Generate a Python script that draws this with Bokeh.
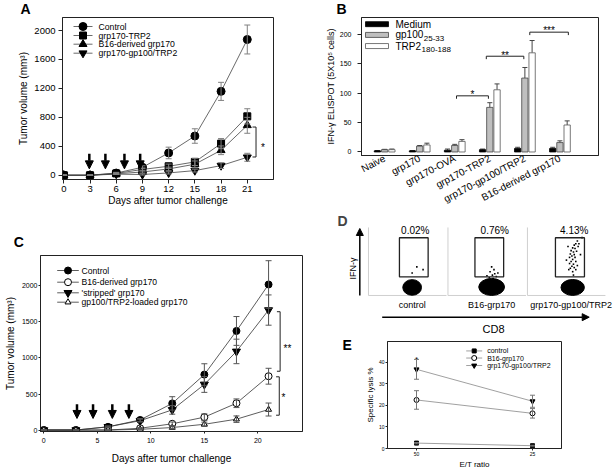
import math
from bokeh.plotting import figure
from bokeh.models import (Range1d, FixedTicker, Whisker, TeeHead, Arrow, NormalHead, Label,
                          ColumnDataSource)
from bokeh.layouts import row, column
from bokeh.embed import file_html
from bokeh.resources import INLINE
from bokeh.core.properties import value

FONT = "Liberation Sans"
INK = "#222222"
GREY = "#808080"

# ---------------- data: panel A ----------------
A_days = [0, 3, 6, 9, 12, 15, 18, 21]
A_control = [0, 0, 30, 110, 308, 542, 1159, 1876]
A_control_err = [0, 0, 10, 20, 80, 100, 125, 200]
A_trp2 = [0, 0, 25, 80, 124, 184, 437, 814]
A_trp2_err = [0, 0, 8, 20, 30, 50, 70, 105]
A_b16 = [0, 0, 20, 45, 87, 152, 345, 690]
A_b16_err = [0, 0, 8, 15, 25, 45, 60, 110]
A_gp = [0, 0, 15, 10, 32, 64, 133, 248]
A_gp_err = [0, 0, 5, 8, 15, 20, 40, 55]
A_injection_days = [2.92, 4.76, 6.94, 8.74]
A_x_ticks = [0, 3, 6, 9, 12, 15, 18, 21]
A_y_ticks = [0, 400, 800, 1200, 1600, 2000]

# ---------------- data: panel B ----------------
B_groups = ["Naive", "grp170", "grp170-OVA", "grp170-TRP2", "grp170-gp100/TRP2", "B16-derived grp170"]
B_medium = [2, 2, 3, 4, 6, 6]
B_medium_err = [0.5, 0.5, 2, 1, 2, 2]
B_gp100 = [4, 10, 11, 76, 126, 16]
B_gp100_err = [0.5, 1, 2, 8, 18, 3]
B_trp2 = [4, 12, 18, 106, 169, 46]
B_trp2_err = [1, 3, 3, 10, 21, 7]
B_y_ticks = [0, 50, 100, 150, 200]

# ---------------- data: panel C ----------------
C_days = [0, 3, 6, 9, 12, 15, 18, 21]
C_control = [0, 0, 45, 140, 370, 770, 1375, 2020]
C_control_err = [0, 0, 10, 20, 93, 150, 200, 330]
C_b16 = [0, 0, 0, 25, 87, 179, 372, 747]
C_b16_err = [0, 0, 0, 8, 25, 45, 60, 110]
C_stripped = [0, 0, 45, 130, 280, 633, 1091, 1665]
C_stripped_err = [0, 0, 10, 20, 60, 110, 170, 210]
C_loaded = [0, 0, 0, 10, 35, 80, 151, 285]
C_loaded_err = [0, 0, 0, 5, 15, 30, 45, 90]
C_injection_days = [3.1, 4.6, 6.4, 7.95]
C_x_ticks = [0, 5, 10, 15, 20]
C_y_ticks = [0, 500, 1000, 1500, 2000]

# ---------------- data: panel D ----------------
D_conditions = ["control", "B16-grp170", "grp170-gp100/TRP2"]
D_percent = ["0.02%", "0.76%", "4.13%"]
D_gate_x0 = [397, 346, 359]
D_gate_x1 = [765, 714, 731]
D_gate_y0 = 275
D_gate_y1 = 849
D_cluster_x = [560, 560, 580]
D_cluster_y = [118, 125, 118]
D_cluster_w = [240, 330, 300]
D_cluster_h = [230, 250, 235]
D_dots_x = [[620, 560, 700],
            [560, 590, 540, 600, 570, 620, 530, 580, 610, 550, 640, 500],
            [640, 620, 600, 650, 580, 610, 560, 590, 630, 550, 600, 570, 540, 610, 580,
             560, 620, 540, 590, 570, 600, 550, 530, 620, 580, 700, 520, 680, 500, 640, 660, 590]]
D_dots_y = [[420, 330, 380],
            [420, 380, 350, 320, 300, 280, 260, 250, 230, 220, 330, 290],
            [800, 760, 740, 720, 700, 690, 660, 640, 650, 610, 600, 580, 560, 560, 530,
             500, 500, 470, 460, 430, 410, 400, 380, 380, 350, 850, 720, 600, 520, 440, 760, 300]]

# ---------------- data: panel E ----------------
E_ratio_labels = ["50", "25"]
E_control = [2.5, 1.3]
E_control_err = [0.3, 0.2]
E_b16 = [22.5, 16.3]
E_b16_err = [4.3, 2.2]
E_gp = [36.7, 21.9]
E_gp_err = [4.6, 2.8]
E_y_ticks = [0, 10, 20, 30, 40]


def base_fig(w, h, xr, yr, mb):
    p = figure(width=w, height=h, x_range=Range1d(*xr), y_range=Range1d(*yr),
               output_backend="svg", toolbar_location=None, min_border_left=mb[0],
               min_border_right=mb[1], min_border_top=mb[2], min_border_bottom=mb[3])
    p.frame_align = False
    p.title.visible = False
    p.xgrid.visible = False
    p.ygrid.visible = False
    p.outline_line_color = INK
    p.outline_line_width = 1
    return p


def mapper(origin, size, mb, xr, yr):
    """page-pixel -> data converters for a figure's frame (used for the legend keys)"""
    fl = origin[0] + mb[0]
    fr = origin[0] + size[0] - mb[1]
    ft = origin[1] + mb[2]
    fb = origin[1] + size[1] - mb[3]
    X = lambda px: xr[0] + (px - fl) / (fr - fl) * (xr[1] - xr[0])
    Y = lambda py: yr[1] - (py - ft) / (fb - ft) * (yr[1] - yr[0])
    return X, Y


def style_axis(ax, tick_px, label_px, tick_out, label_standoff, axis_label_standoff):
    ax.axis_line_color = INK
    ax.major_tick_line_color = INK
    ax.minor_tick_line_color = None
    ax.major_tick_in = 0
    ax.major_tick_out = tick_out
    ax.major_label_text_font = FONT
    ax.major_label_text_font_size = tick_px
    ax.major_label_text_color = "black"
    ax.major_label_standoff = label_standoff
    ax.axis_label_text_font = FONT
    ax.axis_label_text_font_size = label_px
    ax.axis_label_text_font_style = "normal"
    ax.axis_label_text_color = "black"
    ax.axis_label_standoff = axis_label_standoff


LETTER_PX = "14px"


def letters_fig(w, h, letters):
    p = figure(width=w, height=h, x_range=Range1d(0, 1), y_range=Range1d(0, 1),
               output_backend="svg", toolbar_location=None, min_border=0,
               x_axis_location=None, y_axis_location=None)
    p.frame_align = False
    p.title.visible = False
    p.xgrid.visible = False
    p.ygrid.visible = False
    p.outline_line_color = None
    for t, x, y in letters:
        p.add_layout(Label(x=x, y=h - y, x_units="screen", y_units="screen", text=t,
                           text_font=FONT, text_font_style="bold", text_font_size=LETTER_PX,
                           text_align="center", text_baseline="middle", text_color="black"))
    return p


def series(p, x, y, err, marker, size, fill, line_color, err_color, cap, lw=0.8):
    src = ColumnDataSource(dict(x=x, y=y, lo=[a - b for a, b in zip(y, err)],
                                hi=[a + b for a, b in zip(y, err)]))
    p.line("x", "y", source=src, line_color=line_color, line_width=lw)
    p.add_layout(Whisker(source=src, base="x", lower="lo", upper="hi", line_color=err_color,
                         line_width=1, level="glyph",
                         upper_head=TeeHead(size=cap, line_color=err_color, line_width=1),
                         lower_head=TeeHead(size=cap, line_color=err_color, line_width=1)))
    p.scatter("x", "y", source=src, marker=marker, size=size, fill_color=fill,
              line_color="black", line_width=1)


def line_legend(p, X, Y, entries, gx0, gx1, tx, ys, font, line_color):
    for (label, marker, size, fill), py in zip(entries, ys):
        p.segment(x0=[X(gx0)], y0=[Y(py)], x1=[X(gx1)], y1=[Y(py)], line_color=line_color,
                  line_width=0.8)
        p.scatter(x=[X((gx0 + gx1) / 2)], y=[Y(py)], marker=marker, size=size,
                  fill_color=fill, line_color="black", line_width=1)
        p.text(x=[X(tx)], y=[Y(py)], text=[label], text_font=value(FONT),
               text_font_size=font, text_align="left", text_baseline="middle")


def vbracket(p, x, y0, y1, tick):
    p.segment(x0=[x, x - tick, x - tick], y0=[y0, y0, y1], x1=[x, x, x], y1=[y1, y0, y1],
              line_color=INK, line_width=1)


def star(p, x, y, text, size):
    p.text(x=[x], y=[y], text=[text], text_font=value(FONT), text_font_size=size,
           text_align="center", text_baseline="alphabetic", text_color="black")


TOP = 17    # height of the strip that carries the panel letters A and B
ROW1 = 212  # page y where panels C (letter strip) and D start

# ================= Panel A =================
A_O, A_S, A_mb = (0, TOP), (320, ROW1 - TOP), (62, 47, 0, ROW1 - 179)
A_xr, A_yr = (-0.15, 24), (-59, 2180)
pA = base_fig(*A_S, A_xr, A_yr, A_mb)
for ax in pA.axis:
    style_axis(ax, "9.5px", "10px", 4, 3, 2)
pA.xaxis.major_label_standoff = 2
pA.xaxis.axis_label_standoff = 0
pA.xaxis.ticker = FixedTicker(ticks=A_x_ticks)
pA.yaxis.ticker = FixedTicker(ticks=A_y_ticks)
pA.xaxis.axis_label = "Days after tumor challenge"
pA.yaxis.axis_label = "Tumor volume (mm³)"
for d in A_injection_days:
    pA.add_layout(Arrow(end=NormalHead(size=8, fill_color="black", line_color="black"),
                        x_start=d, y_start=296, x_end=d, y_end=88,
                        line_width=2.5, line_color="black"))
A_series = [("Control", A_control, A_control_err, "circle", 8, "black"),
            ("grp170-TRP2", A_trp2, A_trp2_err, "square", 7, "black"),
            ("B16-derived grp170", A_b16, A_b16_err, "triangle", 8, "black"),
            ("grp170-gp100/TRP2", A_gp, A_gp_err, "inverted_triangle", 8, "black")]
for name, y, e, m, s, f in A_series:
    series(pA, A_days, y, e, m, s, f, "#444444", GREY, 6)
vbracket(pA, 22.0, 666, 252, 0.4)
star(pA, 22.8, 385, "*", "10px")
XA, YA = mapper(A_O, A_S, A_mb, A_xr, A_yr)
line_legend(pA, XA, YA, [(n, m, s, f) for n, _, _, m, s, f in A_series], 73, 92, 98,
            [26, 35, 43.7, 52.7], "8.7px", "#444444")

# ================= Panel B =================
B_O, B_S, B_mb = (320, TOP), (295, ROW1 - TOP), (41, 17, 0, ROW1 - 162)
B_xr, B_yr = (-0.66, 6.1), (-6, 229.2)
pB = base_fig(*B_S, B_xr, B_yr, B_mb)
for ax in pB.axis:
    style_axis(ax, "7px", "9px", 4, 6, 1)
pB.xaxis.ticker = FixedTicker(ticks=list(range(len(B_groups))))
pB.xaxis.major_label_overrides = {i: g for i, g in enumerate(B_groups)}
pB.xaxis.major_label_orientation = 0.48
pB.xaxis.major_label_text_font_size = "10px"
pB.xaxis.major_tick_line_color = None
pB.xaxis.major_tick_out = 0
pB.xaxis.major_label_standoff = 2
pB.yaxis.ticker = FixedTicker(ticks=B_y_ticks)
pB.yaxis.axis_label = "IFN-γ ELISPOT (5X10⁵ cells)"

BAR_OFF, BAR_W = 0.206, 0.18
B_sets = [("Medium", "", B_medium, B_medium_err, -1, "black", "black"),
          ("gp100", "25-33", B_gp100, B_gp100_err, 0, "#bfbfbf", "#444444"),
          ("TRP2", "180-188", B_trp2, B_trp2_err, 1, "white", "#555555")]
for name, sub, vals, errs, k, fill, lc in B_sets:
    src = ColumnDataSource(dict(x=[i + k * BAR_OFF for i in range(len(B_groups))], top=vals,
                                hi=[v + e for v, e in zip(vals, errs)]))
    pB.add_layout(Whisker(source=src, base="x", upper="hi", lower="top", lower_head=None,
                          upper_head=TeeHead(size=5, line_color="#444444", line_width=1),
                          line_color="#444444", line_width=1))
    pB.vbar(x="x", top="top", bottom=0, width=BAR_W, source=src, fill_color=fill,
            line_color=lc, line_width=0.8)
for x0, x1, y, lab in [(2.05, 2.96, 95.7, "*"), (2.9, 3.97, 163.2, "**"), (4.14, 5.24, 204.2, "***")]:
    pB.segment(x0=[x0, x0, x1], y0=[y, y, y], x1=[x1, x0, x1], y1=[y, y - 5, y - 5],
               line_color=INK, line_width=1)
    star(pB, (x0 + x1) / 2, y + 2, lab, "10px")
XB, YB = mapper(B_O, B_S, B_mb, B_xr, B_yr)
main_w = {"Medium": 35.6, "gp100": 27.8, "TRP2": 25.6}
for (name, sub, _, _, _, fill, lc), py in zip(B_sets, [24, 35.3, 47]):
    pB.rect(x=[XB(376.5)], y=[YB(py)], width=23, height=5, width_units="screen",
            height_units="screen", fill_color=fill, line_color=lc, line_width=0.8)
    pB.text(x=[XB(395)], y=[YB(py)], text=[name], text_font=value(FONT), text_font_size="10px",
            text_align="left", text_baseline="middle")
    if sub:
        pB.text(x=[XB(395 + main_w[name] + 0.5)], y=[YB(py + 3.5)], text=[sub],
                text_font=value(FONT), text_font_size="8px", text_align="left",
                text_baseline="middle")

# ================= Panel C =================
C_O, C_S, C_mb = (0, 250), (320, 221), (40, 18, 5, 40)
C_xr, C_yr = (-0.31, 24.17), (-20, 2422)
pC = base_fig(*C_S, C_xr, C_yr, C_mb)
for ax in pC.axis:
    style_axis(ax, "7px", "10px", 2, 1, 3)
pC.xaxis.major_label_standoff = 4
pC.xaxis.axis_label_standoff = 7
pC.xaxis.ticker = FixedTicker(ticks=C_x_ticks)
pC.yaxis.ticker = FixedTicker(ticks=C_y_ticks)
pC.xaxis.axis_label = "Days after tumor challenge"
pC.yaxis.axis_label = "Tumor volume (mm³)"
for d in C_injection_days:
    pC.add_layout(Arrow(end=NormalHead(size=8, fill_color="black", line_color="black"),
                        x_start=d, y_start=358, x_end=d, y_end=161,
                        line_width=2.5, line_color="black"))
C_series = [("Control", C_control, C_control_err, "circle", 7, "black"),
            ("B16-derived grp170", C_b16, C_b16_err, "circle", 7, "white"),
            ("'stripped' grp170", C_stripped, C_stripped_err, "inverted_triangle", 8, "black"),
            ("gp100/TRP2-loaded grp170", C_loaded, C_loaded_err, "triangle", 6, "white")]
for name, y, e, m, s, f in C_series:
    series(pC, C_days, y, e, m, s, f, "#333333", "#555555", 6)
vbracket(pC, 22.08, 1642, 816, 0.3)
vbracket(pC, 22.0, 739, 206, 0.3)
star(pC, 22.77, 1135, "**", "10px")
star(pC, 22.4, 455, "*", "10px")
XC, YC = mapper(C_O, C_S, C_mb, C_xr, C_yr)
line_legend(pC, XC, YC, [(n, m, s, f) for n, _, _, m, s, f in C_series], 56.7, 78.3, 81,
            [270, 281.7, 292.3, 301.7], "8.6px", "#333333")

# ================= Panel D =================
D_W, D_H = 295, 124
PANEL_STEP = 1019
pD = figure(width=D_W, height=D_H, x_range=Range1d(-615, 3167), y_range=Range1d(-603, 1220),
            output_backend="svg", toolbar_location=None, min_border=0,
            x_axis_location=None, y_axis_location=None)
pD.frame_align = False
pD.title.visible = False
pD.xgrid.visible = False
pD.ygrid.visible = False
pD.outline_line_color = None
offs = [i * PANEL_STEP for i in range(len(D_conditions))]
pD.segment(x0=offs + offs, y0=[0] * 6, x1=[o + 1000 for o in offs] + offs,
           y1=[0] * 3 + [1000] * 3, line_color="#cfcfcf", line_width=1)
pD.ellipse(x=[o + c for o, c in zip(offs, D_cluster_x)], y=D_cluster_y,
           width=D_cluster_w, height=D_cluster_h, fill_color="black", line_color="black")
dx, dy = [], []
for o, xs_, ys_ in zip(offs, D_dots_x, D_dots_y):
    dx += [o + v for v in xs_]
    dy += ys_
pD.scatter(x=dx, y=dy, size=1.6, marker="square", fill_color="black", line_color=None)
pD.quad(left=[o + a for o, a in zip(offs, D_gate_x0)], right=[o + b for o, b in zip(offs, D_gate_x1)],
        bottom=D_gate_y0, top=D_gate_y1, fill_color=None, line_color=INK, line_width=1.3)
pD.text(x=[o + 600 for o in offs], y=[950] * 3, text=D_percent, text_font=value(FONT),
        text_font_size="10px", text_align="center", text_baseline="middle")
pD.text(x=[o + 560 for o in offs], y=[-137] * 3, text=D_conditions, text_font=value(FONT),
        text_font_size="9px", text_align="center", text_baseline="middle")
pD.add_layout(Arrow(end=NormalHead(size=7, fill_color="black", line_color="black"),
                    x_start=-111, y_start=0, x_end=-111, y_end=985, line_width=1.5))
pD.add_layout(Arrow(end=NormalHead(size=7, fill_color="black", line_color="black"),
                    x_start=176, y_start=-319, x_end=2830, y_end=-319, line_width=1.5))
pD.text(x=[-192], y=[397], text=["IFN-γ"], angle=math.pi / 2, text_font=value(FONT),
        text_font_size="9px", text_align="center", text_baseline="middle")
pD.text(x=[1603], y=[-490], text=["CD8"], text_font=value(FONT), text_font_size="11px",
        text_align="center", text_baseline="middle")
pD.add_layout(Label(x=22, y=D_H - 8.5, x_units="screen", y_units="screen", text="D",
                    text_font=FONT, text_font_style="bold", text_font_size=LETTER_PX,
                    text_align="center", text_baseline="middle"))

# ================= Panel E =================
E_O, E_S, E_mb = (360, 336), (255, 135), (27, 54, 5, 20)
E_xr, E_yr = (-0.25, 1.25), (0, 49.6)
pE = base_fig(*E_S, E_xr, E_yr, E_mb)
for ax in pE.axis:
    style_axis(ax, "5px", "8px", 2, 1, 1)
pE.xaxis.ticker = FixedTicker(ticks=list(range(len(E_ratio_labels))))
pE.xaxis.major_label_overrides = {i: t for i, t in enumerate(E_ratio_labels)}
pE.yaxis.ticker = FixedTicker(ticks=E_y_ticks)
pE.xaxis.axis_label = "E/T ratio"
pE.yaxis.axis_label = "Specific lysis %"
E_x = list(range(len(E_ratio_labels)))
E_series = [("control", E_control, E_control_err, "square", 4, "black"),
            ("B16-grp170", E_b16, E_b16_err, "circle", 5, "white"),
            ("grp170-gp100/TRP2", E_gp, E_gp_err, "inverted_triangle", 5, "black")]
for name, y, e, m, s, f in E_series:
    series(pE, E_x, y, e, m, s, f, "#888888", "#777777", 5)
star(pE, 0, 41.2, "*", "8px")
XE, YE = mapper(E_O, E_S, E_mb, E_xr, E_yr)
line_legend(pE, XE, YE, [(n, m, s, f) for n, _, _, m, s, f in E_series], 465.7, 481.7, 486.7,
            [350.7, 358, 365.7], "7px", "#888888")

# ================= letters & layout =================
strip_top = letters_fig(615, TOP, [("A", 25, 8.5), ("B", 341, 8.5)])
strip_C = letters_fig(320, 250 - ROW1, [("C", 18.3, 29)])
strip_E = letters_fig(40, 135, [("E", 26.7, 8.5)])

layout = column(strip_top,
                row(column(pA, strip_C, pC),
                    column(pB, pD, row(strip_E, pE))))
open("out.html", "w").write(file_html(layout, INLINE))
